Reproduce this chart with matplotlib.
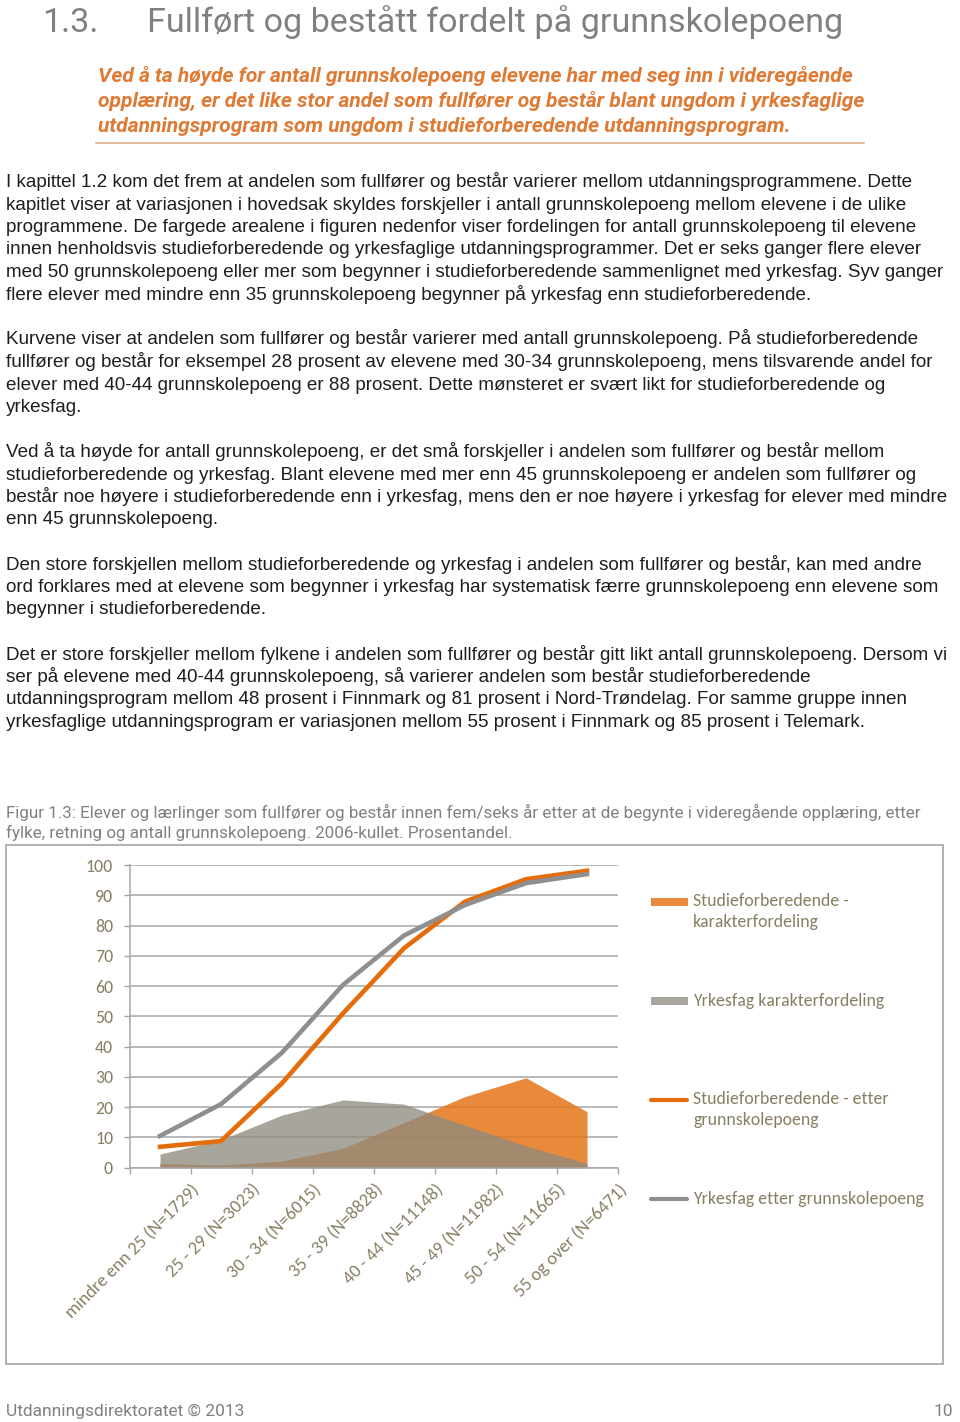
import numpy as np
import matplotlib
matplotlib.use("Agg")
import matplotlib.pyplot as plt
from matplotlib import font_manager as fm
from matplotlib.lines import Line2D
from matplotlib.patches import Rectangle
from matplotlib.transforms import ScaledTranslation

# chart data
categories = ["mindre enn 25 (N=1729)", "25 - 29 (N=3023)", "30 - 34 (N=6015)",
              "35 - 39 (N=8828)", "40 - 44 (N=11148)", "45 - 49 (N=11982)",
              "50 - 54 (N=11665)", "55 og over (N=6471)"]
studie_fordeling = [1.4, 0.9, 2.2, 6.4, 14.9, 23.5, 29.7, 18.5]
yrkes_fordeling = [4.5, 9.2, 17.4, 22.4, 21.0, 14.0, 7.2, 1.4]
studie_fullfort = [6.9, 8.8, 27.9, 51.0, 72.5, 87.9, 95.3, 98.1]
yrkes_fullfort = [10.5, 21.0, 38.0, 60.4, 76.7, 86.8, 94.0, 97.0]
yticks = list(range(0, 101, 10))

legend_labels = ["Studieforberedende -\nkarakterfordeling", "Yrkesfag karakterfordeling",
                 "Studieforberedende - etter\ngrunnskolepoeng", "Yrkesfag etter grunnskolepoeng"]

title_no = "1.3."
title = "Fullført og bestått fordelt på grunnskolepoeng"
intro = ["Ved å ta høyde for antall grunnskolepoeng elevene har med seg inn i videregående",
         "opplæring, er det like stor andel som fullfører og består blant ungdom i yrkesfaglige",
         "utdanningsprogram som ungdom i studieforberedende utdanningsprogram."]
body = [
    "I kapittel 1.2 kom det frem at andelen som fullfører og består varierer mellom utdanningsprogrammene. Dette",
    "kapitlet viser at variasjonen i hovedsak skyldes forskjeller i antall grunnskolepoeng mellom elevene i de ulike",
    "programmene. De fargede arealene i figuren nedenfor viser fordelingen for antall grunnskolepoeng til elevene",
    "innen henholdsvis studieforberedende og yrkesfaglige utdanningsprogrammer. Det er seks ganger flere elever",
    "med 50 grunnskolepoeng eller mer som begynner i studieforberedende sammenlignet med yrkesfag. Syv ganger",
    "flere elever med mindre enn 35 grunnskolepoeng begynner på yrkesfag enn studieforberedende.",
    "",
    "Kurvene viser at andelen som fullfører og består varierer med antall grunnskolepoeng. På studieforberedende",
    "fullfører og består for eksempel 28 prosent av elevene med 30-34 grunnskolepoeng, mens tilsvarende andel for",
    "elever med 40-44 grunnskolepoeng er 88 prosent. Dette mønsteret er svært likt for studieforberedende og",
    "yrkesfag.",
    "",
    "Ved å ta høyde for antall grunnskolepoeng, er det små forskjeller i andelen som fullfører og består mellom",
    "studieforberedende og yrkesfag. Blant elevene med mer enn 45 grunnskolepoeng er andelen som fullfører og",
    "består noe høyere i studieforberedende enn i yrkesfag, mens den er noe høyere i yrkesfag for elever med mindre",
    "enn 45 grunnskolepoeng.",
    "",
    "Den store forskjellen mellom studieforberedende og yrkesfag i andelen som fullfører og består, kan med andre",
    "ord forklares med at elevene som begynner i yrkesfag har systematisk færre grunnskolepoeng enn elevene som",
    "begynner i studieforberedende.",
    "",
    "Det er store forskjeller mellom fylkene i andelen som fullfører og består gitt likt antall grunnskolepoeng. Dersom vi",
    "ser på elevene med 40-44 grunnskolepoeng, så varierer andelen som består studieforberedende",
    "utdanningsprogram mellom 48 prosent i Finnmark og 81 prosent i Nord-Trøndelag. For samme gruppe innen",
    "yrkesfaglige utdanningsprogram er variasjonen mellom 55 prosent i Finnmark og 85 prosent i Telemark.",
]
caption = ["Figur 1.3: Elever og lærlinger som fullfører og består innen fem/seks år etter at de begynte i videregående opplæring, etter",
           "fylke, retning og antall grunnskolepoeng. 2006-kullet. Prosentandel."]
footer_left = "Utdanningsdirektoratet © 2013"
footer_right = "10"

# colours
ORANGE_AREA = "#E4741A"
GREY_AREA = "#8E8B7E"
ORANGE_LINE = "#E46C0A"
GREY_LINE = "#8F8F8F"
GRID = "#A6A6A6"
OLIVE = "#877F62"
PAGE_GREY = "#808080"
INTRO = "#DF7A35"
BODY = "#1E1E1E"

names = {f.name for f in fm.fontManager.ttflist}
def pick(*cands):
    return next((c for c in cands if c in names), "DejaVu Sans")

narrow = pick("Liberation Sans Narrow", "Roboto", "Liberation Sans")
body_font = pick("Liberation Sans", "Roboto")
chart_font = pick("Carlito", "Lato", "Open Sans")

W, H = 960, 1422
fig = plt.figure(figsize=(W / 100, H / 100), dpi=100)
renderer = fig.canvas.get_renderer()

def put(x, y, s, **kw):
    return fig.text(x / W, 1 - y / H, s, va="baseline", **kw)

def fit(t, width):
    w = t.get_window_extent(renderer).width
    t.set_fontsize(t.get_fontsize() * width / w)
    return t.get_fontsize()

# heading
t = put(147, 32, title, color=PAGE_GREY, family=narrow, fontsize=24)
size = fit(t, 696)
put(42, 32, title_no, color=PAGE_GREY, family=narrow, fontsize=size)

# intro in orange
t = put(98, 82, intro[0], color=INTRO, family=narrow, weight="bold", style="italic", fontsize=14)
size = fit(t, 759)
for i, line in enumerate(intro[1:], start=1):
    put(98, 82 + 25 * i, line, color=INTRO, family=narrow, weight="bold", style="italic", fontsize=size)
fig.add_artist(Line2D([96 / W, 864 / W], [1 - 143 / H] * 2, color="#D8A77C", lw=1.1))

# body text
t = put(6, 187, body[0], color=BODY, family=body_font, fontsize=12)
size = fit(t, 912)
for i, line in enumerate(body[1:], start=1):
    if line:
        put(6, 187 + 22.5 * i, line, color=BODY, family=body_font, fontsize=size)

# caption
t = put(6, 818, caption[0], color=PAGE_GREY, family=narrow, fontsize=11)
size = fit(t, 914)
put(6, 838, caption[1], color=PAGE_GREY, family=narrow, fontsize=size)

# footer
t = put(6, 1416, footer_left, color=PAGE_GREY, family=narrow, fontsize=12)
size = fit(t, 237)
put(953, 1416, footer_right, color=PAGE_GREY, family=narrow, fontsize=size, ha="right")

# chart frame
fig.add_artist(Rectangle((6 / W, 1 - 1364 / H), 937 / W, 519 / H, transform=fig.transFigure,
                         fill=False, ec="#A6A6A6", lw=1.2))

# legend (drawn by hand to keep Excel's spacing)
t = put(693, 1204, legend_labels[3], color=OLIVE, family=chart_font, fontsize=11)
lsize = fit(t, 229)
put(693, 1006, legend_labels[1], color=OLIVE, family=chart_font, fontsize=lsize)
for lbl, ytop in [(legend_labels[0], 893), (legend_labels[2], 1091)]:
    fig.text(693 / W, 1 - ytop / H, lbl, va="top", color=OLIVE, family=chart_font,
             fontsize=lsize, linespacing=1.35)
fig.add_artist(Rectangle((651 / W, 1 - 906 / H), 37 / W, 8 / H, transform=fig.transFigure,
                         color=ORANGE_AREA, alpha=0.85, lw=0))
fig.add_artist(Rectangle((651 / W, 1 - 1005 / H), 37 / W, 8 / H, transform=fig.transFigure,
                         color=GREY_AREA, alpha=0.77, lw=0))
fig.add_artist(Line2D([651 / W, 687 / W], [1 - 1100 / H] * 2, color=ORANGE_LINE, lw=3,
                      solid_capstyle="round"))
fig.add_artist(Line2D([651 / W, 687 / W], [1 - 1199 / H] * 2, color=GREY_LINE, lw=3,
                      solid_capstyle="round"))

# plot area
ax = fig.add_axes([129.5 / W, 1 - 1167.7 / H, 488 / W, 302.7 / H])
x = np.arange(len(categories))
ax.fill_between(x, studie_fordeling, color=ORANGE_AREA, alpha=0.85, lw=0, zorder=2)
ax.fill_between(x, yrkes_fordeling, color=GREY_AREA, alpha=0.77, lw=0, zorder=2)
ax.plot(x, studie_fullfort, color=ORANGE_LINE, lw=3.3, solid_joinstyle="round", zorder=3)
ax.plot(x, yrkes_fullfort, color=GREY_LINE, lw=3.3, solid_joinstyle="round", zorder=3)

ax.set_xlim(-0.5, len(categories) - 0.5)
ax.set_ylim(0, 100)
ax.set_yticks(yticks)
ax.yaxis.grid(True, color=GRID, lw=1.1)
ax.set_axisbelow(True)
for side in ["top", "right"]:
    ax.spines[side].set_visible(False)
for side in ["left", "bottom"]:
    ax.spines[side].set_color(GRID)
    ax.spines[side].set_linewidth(1.1)

ax.tick_params(axis="y", length=4.3, width=1, color=GRID, pad=7.5, labelsize=lsize, labelcolor=OLIVE)
ax.set_xticks(x)
ax.set_xticklabels(categories, rotation=45, ha="right", va="center", rotation_mode="anchor")
ax.tick_params(axis="x", which="major", length=0, pad=14, labelsize=lsize * 1.03, labelcolor=OLIVE)
ax.set_xticks(np.arange(-0.5, len(categories), 1), minor=True)
ax.tick_params(axis="x", which="minor", length=4.3, width=1, color=GRID)
for lab in ax.get_xticklabels() + ax.get_yticklabels():
    lab.set_family(chart_font)
offset = ScaledTranslation(0.37, 0, fig.dpi_scale_trans)
for lab in ax.get_xticklabels():
    lab.set_transform(lab.get_transform() + offset)

fig.savefig("out.png", dpi=100)
